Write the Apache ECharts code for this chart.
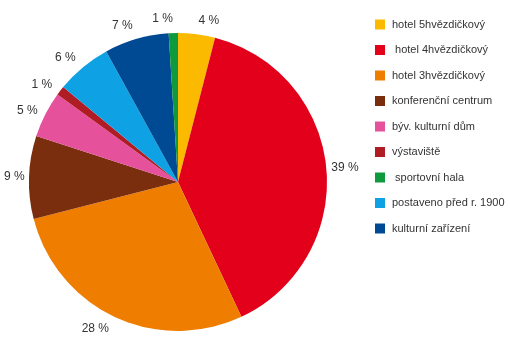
<!DOCTYPE html>
<html>
<head>
<meta charset="utf-8">
<script src="https://cdn.jsdelivr.net/npm/echarts@6/dist/echarts.min.js"></script>
<style>
    html, body { margin: 0; padding: 0; background: #fff; }
    #pie { width: 510px; height: 344px; }
</style>
</head>
<body>
<div id="pie"></div>
<script>
    // slices clockwise from the top
    var names = ['hotel 5hvězdičkový', ' hotel 4hvězdičkový', 'hotel 3hvězdičkový', 'konferenční centrum',
        'býv. kulturní dům', 'výstaviště', 'postaveno před r. 1900', 'kulturní zařízení', ' sportovní hala'];
    var values = [4, 39, 28, 9, 5, 1, 6, 7, 1];
    var colors = ['#fbba00', '#e2001a', '#ef7d00', '#7a2e0e', '#e5519b', '#b01c24', '#0ea1e4', '#004a93', '#0f9a3d'];
    // legend order (differs from slice order)
    var legendOrder = ['hotel 5hvězdičkový', ' hotel 4hvězdičkový', 'hotel 3hvězdičkový', 'konferenční centrum',
        'býv. kulturní dům', 'výstaviště', ' sportovní hala', 'postaveno před r. 1900', 'kulturní zařízení'];

    var font = '"Liberation Sans", Arial, sans-serif';
    var C = [178, 182];
    var chart = echarts.init(document.getElementById('pie'));
    var pieData = names.map(function (n, i) {
        return { name: n, value: values[i], itemStyle: { color: colors[i] } };
    });

    chart.setOption({
        animation: false,
        legend: {
            data: legendOrder,
            orient: 'vertical',
            left: 370,
            top: 14,
            itemWidth: 10,
            itemHeight: 10,
            itemGap: 14.5,
            icon: 'rect',
            textStyle: { fontFamily: font, fontSize: 11, color: '#333', padding: [0, 0, 0, 2] }
        },
        series: [{
            type: 'pie',
            center: C,
            radius: 149,
            startAngle: 90,
            clockwise: true,
            silent: true,
            data: pieData,
            label: {
                show: true,
                position: 'outside',
                formatter: '{c} %',
                fontFamily: font,
                fontSize: 12,
                overflow: 'none',
                color: '#333'
            },
            labelLine: { show: true, length: 6, length2: 2, lineStyle: { opacity: 0 } },
            // keep each label on its slice's mid angle (no shifting), just outside the rim
            labelLayout: function (p) {
                var pt = p.labelLinePoints[0];
                var dx = pt[0] - C[0], dy = pt[1] - C[1];
                var d = Math.sqrt(dx * dx + dy * dy);
                var k = (d + 4 + 10 * Math.abs(dy) / d) / d;
                return {
                    x: C[0] + dx * k,
                    y: C[1] + dy * k,
                    align: dx < 0 ? 'right' : 'left',
                    verticalAlign: 'middle'
                };
            }
        }]
    });
</script>
</body>
</html>
